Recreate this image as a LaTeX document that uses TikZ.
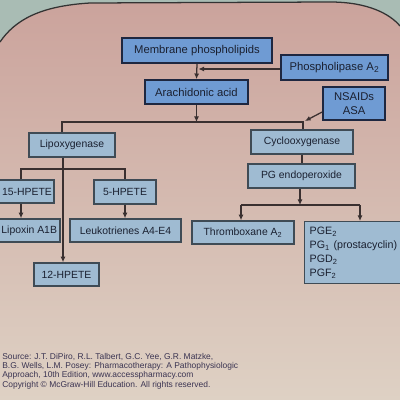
\documentclass[tikz,border=0pt]{standalone}
\usepackage{fontspec}
\setmainfont{Liberation Sans}
\usetikzlibrary{arrows.meta,calc}
\definecolor{outerbg}{HTML}{A9BCB4}
\definecolor{pinktop}{HTML}{CBA39C}
\definecolor{beigebot}{HTML}{DED1C4}
\definecolor{topfill}{HTML}{6F9BD3}
\definecolor{topdraw}{HTML}{1E2740}
\definecolor{lowfill}{HTML}{9FBBD2}
\definecolor{lowdraw}{HTML}{3F4B55}
\definecolor{linecol}{HTML}{3A3030}
\definecolor{txtcol}{HTML}{1A2030}
\definecolor{credcol}{HTML}{3B3452}
\tikzset{
  topbox/.style={draw=topdraw, fill=topfill, line width=1.2pt, inner sep=0pt,
    text=txtcol, font=\fontsize{8}{9.5}\selectfont, align=center},
  lowbox/.style={draw=lowdraw, fill=lowfill, line width=1pt, inner sep=0pt,
    text=txtcol, font=\fontsize{7.4}{9}\selectfont, align=center},
  conn/.style={draw=linecol, line width=0.9pt},
  arr/.style={conn, -{Latex[length=4pt,width=3.6pt]}},
}
\begin{document}
\begin{tikzpicture}[x=0.025cm,y=-0.025cm]
\useasboundingbox (0,0) rectangle (400,400);
\clip (0,0) rectangle (400,400);
% background
\fill[outerbg] (0,0) rectangle (400,400);
\shade[top color=pinktop, bottom color=beigebot]
  (0,42) .. controls (15,20) and (40,6) .. (90,3) -- (330,2)
  .. controls (368,2) and (390,14) .. (400,26) -- (400,400) -- (0,400) -- cycle;
\draw[draw=black!80, line width=0.9pt]
  (0,42) .. controls (15,20) and (40,6) .. (90,3) -- (330,2)
  .. controls (368,2) and (390,14) .. (400,26);
% nodes
\def\px{0.025cm}
\node[topbox, minimum width=150*\px, minimum height=25*\px] (mem) at (197,50.5) {Membrane phospholipids};
\node[topbox, minimum width=107*\px, minimum height=25*\px] (pla) at (334.5,67.5) {Phospholipase A\textsubscript{2}};
\node[topbox, minimum width=103*\px, minimum height=24*\px] (ara) at (196.5,92) {Arachidonic acid};
\node[topbox, minimum width=62*\px, minimum height=33*\px] (nsaid) at (354,103.5) {NSAIDs\\ASA};
\node[lowbox, minimum width=86*\px, minimum height=24*\px] (lipo) at (72,145) {Lipoxygenase};
\node[lowbox, minimum width=102*\px, minimum height=24*\px] (cyclo) at (302,142) {Cyclooxygenase};
\node[lowbox, minimum width=107*\px, minimum height=24*\px] (pgendo) at (301.5,176) {PG endoperoxide};
\node[lowbox, minimum width=66*\px, minimum height=23*\px] (h15) at (21,191.5) {\hspace*{0.3cm}15-HPETE};
\node[lowbox, minimum width=62*\px, minimum height=24*\px] (h5) at (125,192) {5-HPETE};
\node[lowbox, minimum width=76*\px, minimum height=23*\px] (lipox) at (22,230.5) {\hspace*{0.36cm}Lipoxin A1B};
\node[lowbox, minimum width=111*\px, minimum height=23*\px] (leuko) at (125.5,230.5) {Leukotrienes A4-E4};
\node[lowbox, minimum width=65*\px, minimum height=23*\px] (h12) at (66.5,274.5) {12-HPETE};
\node[lowbox, minimum width=102*\px, minimum height=23*\px] (thromb) at (243,232.5) {Thromboxane A\textsubscript{2}};
\node[lowbox, anchor=north west, minimum width=120*\px, minimum height=62*\px,
  text width=110*\px, inner xsep=5*\px, align=left, font=\fontsize{7.6}{10}\selectfont]
  (pgbox) at (304,221) {PGE\textsubscript{2}\\PG\textsubscript{1} (prostacyclin)\\PGD\textsubscript{2}\\PGF\textsubscript{2}};
% junction coordinates
\coordinate (hl) at (62,122);
\coordinate (hr) at (303,122);
\coordinate (hm) at (196.5,122);
\coordinate (lv) at (63,169);
\coordinate (nsend) at (305,121);
\coordinate (tl) at (241,205);
\coordinate (tr) at (360,205);
\coordinate (pj) at (300,205);
\coordinate (plaend) at (197,69);
% connectors
\draw[arr] (mem.south) -- (ara.north);
\draw[arr, shorten >=1pt] (pla.west |- plaend) -- (plaend);
\draw[arr] (ara.south) -- (hm);
\draw[conn] (hl |- lipo.north) -- (hl) -- (hr) -- (hr |- cyclo.north);
\draw[arr] ($(nsaid.west)+(0,8.5)$) -- (nsend);
\draw[arr] (lipo.south -| lv) -- (lv |- h12.north);
\draw[conn] (h15.north) |- (h5.north |- lv) -- (h5.north);
\draw[arr] (h15.south) -- (h15.south |- lipox.north);
\draw[arr] (h5.south) -- (h5.south |- leuko.north);
\draw[conn] (cyclo.south) -- (cyclo.south |- pgendo.north);
\draw[arr] (pgendo.south -| pj) -- (pj);
\draw[conn] (tl) -- (tr);
\draw[arr] (tl) -- (tl |- thromb.north);
\draw[arr] (tr) -- (tr |- pgbox.north);
% credits
\node[anchor=north west, inner sep=0pt, text=credcol, align=left,
  font=\fontsize{6}{6.6}\selectfont] (cred) at (2,353)
  {Source: J.T. DiPiro, R.L. Talbert, G.C. Yee, G.R. Matzke,\\
   B.G. Wells, L.M. Posey: Pharmacotherapy: A Pathophysiologic\\
   Approach, 10th Edition, www.accesspharmacy.com\\
   Copyright \textcopyright{} McGraw-Hill Education. All rights reserved.};
\end{tikzpicture}
\end{document}
